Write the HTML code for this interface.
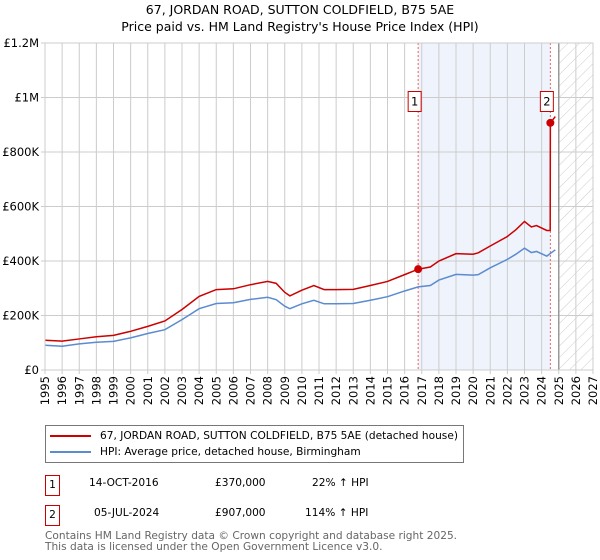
<!DOCTYPE html>
<html><head><meta charset="utf-8"><style>
body{margin:0;background:#fff;font-family:"DejaVu Sans","Liberation Sans",sans-serif;}
#wrap{position:relative;width:600px;height:560px;overflow:hidden;}
.t{position:absolute;white-space:nowrap;color:#000;}
</style></head><body><div id="wrap">
<div class="t" style="left:0;width:600px;text-align:center;top:2px;font-size:12.5px;">67, JORDAN ROAD, SUTTON COLDFIELD, B75 5AE</div>
<div class="t" style="left:0;width:600px;text-align:center;top:19px;font-size:12.5px;">Price paid vs. HM Land Registry's House Price Index (HPI)</div>
<svg id="chart" width="600" height="420" style="position:absolute;left:0;top:0" font-family="DejaVu Sans, Liberation Sans, sans-serif">
<defs><pattern id="hatch" width="8" height="8" patternUnits="userSpaceOnUse" patternTransform="rotate(45)"><line x1="0" y1="0" x2="0" y2="8" stroke="#ccc" stroke-width="1"/></pattern></defs>
</svg>
<div style="position:absolute;left:45px;top:425px;width:417px;height:36px;border:1px solid #777;">
<div class="t" style="left:4px;top:4px;font-size:10.6px;"><span style="display:inline-block;width:41px;height:2px;background:#cc0000;vertical-align:middle;margin-right:9px"></span>67, JORDAN ROAD, SUTTON COLDFIELD, B75 5AE (detached house)</div>
<div class="t" style="left:4px;top:20px;font-size:10.6px;"><span style="display:inline-block;width:41px;height:2px;background:#5b8bd0;vertical-align:middle;margin-right:9px"></span>HPI: Average price, detached house, Birmingham</div>
</div>
<div class="t" style="left:45px;top:475px;width:13px;height:19px;border:1px solid #c00;font-size:10.6px;text-align:center;line-height:19px">1</div>
<div class="t" style="left:89px;top:477px;font-size:10.6px">14-OCT-2016</div>
<div class="t" style="left:215px;top:477px;font-size:10.6px">£370,000</div>
<div class="t" style="left:312px;top:477px;font-size:10.6px">22% ↑ HPI</div>
<div class="t" style="left:45px;top:505px;width:13px;height:19px;border:1px solid #c00;font-size:10.6px;text-align:center;line-height:19px">2</div>
<div class="t" style="left:94px;top:507px;font-size:10.6px">05-JUL-2024</div>
<div class="t" style="left:215px;top:507px;font-size:10.6px">£907,000</div>
<div class="t" style="left:305px;top:507px;font-size:10.6px">114% ↑ HPI</div>
<div class="t" style="left:45px;top:531px;font-size:10.6px;color:#666;line-height:11px">Contains HM Land Registry data © Crown copyright and database right 2025.<br>This data is licensed under the Open Government Licence v3.0.</div>
</div>
<script>
const hpiYears=[1995,1996,1997,1998,1999,2000,2001,2002,2003,2004,2005,2006,2007,2008,2008.5,2009,2009.3,2010,2010.7,2011.3,2012,2013,2014,2015,2016,2016.79,2017.5,2018,2019,2020,2020.3,2021,2022,2022.5,2023,2023.4,2023.7,2024.3,2024.8];
const hpiValues=[91,87,96,102,105,118,134,148,185,225,244,247,259,267,258,234,225,243,256,243,243,244,256,269,290,305,310,330,351,348,350,375,406,425,447,431,435,418,441];
const priceYears=[1995,1996,1997,1998,1999,2000,2001,2002,2003,2004,2005,2006,2007,2008,2008.5,2009,2009.3,2010,2010.7,2011.3,2012,2013,2014,2015,2016,2016.79,2017.5,2018,2019,2020,2020.3,2021,2022,2022.5,2023,2023.4,2023.7,2024.3,2024.5,2024.51,2024.8];
const priceValues=[109,106,114,122,127,142,160,180,222,270,295,298,313,325,318,285,272,293,310,295,295,296,310,325,350,370,378,400,427,425,430,455,490,515,545,525,530,512,512,907,930];
const saleYears=[2016.79,2024.51];
const saleValues=[370,907];
const saleLabels=["1","2"];
const yTicks=[0,200,400,600,800,1000,1200];
const yTickLabels=["£0","£200K","£400K","£600K","£800K","£1M","£1.2M"];
const xTicks=[1995,1996,1997,1998,1999,2000,2001,2002,2003,2004,2005,2006,2007,2008,2009,2010,2011,2012,2013,2014,2015,2016,2017,2018,2019,2020,2021,2022,2023,2024,2025,2026,2027];
const X0=45,X1=593,Y0=370,Y1=43;
const x=y=>X0+(y-1995)*(X1-X0)/32;
const yv=v=>Y0-v*(Y0-Y1)/1200;
const svg=document.getElementById('chart');
const NS='http://www.w3.org/2000/svg';
function mk(tag,attrs,parent){const e=document.createElementNS(NS,tag);for(const k in attrs)e.setAttribute(k,attrs[k]);(parent||svg).appendChild(e);return e;}
let e;
e=mk('rect',{x:x(2016.79),y:Y1,width:x(2024.51)-x(2016.79),height:Y0-Y1,fill:'#eef3fc'});


e=mk('rect',{x:x(2025),y:Y1,width:X1-x(2025),height:Y0-Y1,fill:'url(#hatch)'});


xTicks.forEach(t=>{
 e=mk('line',{x1:x(t),x2:x(t),y1:Y1,y2:Y0+4,stroke:'#ccc','stroke-width':1});
 
 
 e=mk('text',{x:0,y:0,'font-size':11.5,'text-anchor':'end',transform:`translate(${x(t)+4},${Y0+6}) rotate(-90)`});
 e.textContent=t;
 
 
});
yTicks.forEach((t,i)=>{
 e=mk('line',{x1:X0-4,x2:X1,y1:yv(t),y2:yv(t),stroke:'#ccc','stroke-width':1});
 
 
 e=mk('text',{x:X0-6,y:yv(t)+4,'font-size':11.5,'text-anchor':'end'});
 e.textContent=yTickLabels[i];
 
 
});
e=mk('line',{x1:x(2025),x2:x(2025),y1:Y1,y2:Y0,stroke:'#999','stroke-width':1.5});


saleYears.forEach((s,i)=>{
 e=mk('line',{x1:x(s),x2:x(s),y1:Y1,y2:Y0,stroke:'#f06060','stroke-width':1,'stroke-dasharray':'2,2'});
 
 
});
e=mk('polyline',{points:hpiYears.map((t,i)=>x(t)+','+yv(hpiValues[i])).join(' '),fill:'none',stroke:'#5b8bd0','stroke-width':1.5});


e=mk('polyline',{points:priceYears.map((t,i)=>x(t)+','+yv(priceValues[i])).join(' '),fill:'none',stroke:'#cc0000','stroke-width':1.5});


saleYears.forEach((s,i)=>{
 e=mk('circle',{cx:x(s),cy:yv(saleValues[i]),r:4,fill:'#cc0000'});
 
 
 e=mk('rect',{x:x(s)-10,y:yv(1000)-6,width:13,height:20,fill:'#fff',stroke:'#c00','stroke-width':1});
 
 
 e=mk('text',{x:x(s)-3.5,y:yv(1000)+8,'font-size':11.5,'text-anchor':'middle'});
 e.textContent=saleLabels[i];
 
 
});
e=mk('rect',{x:X0,y:Y1,width:X1-X0,height:Y0-Y1,fill:'none',stroke:'#ccc','stroke-width':1});


</script>
</body></html>
